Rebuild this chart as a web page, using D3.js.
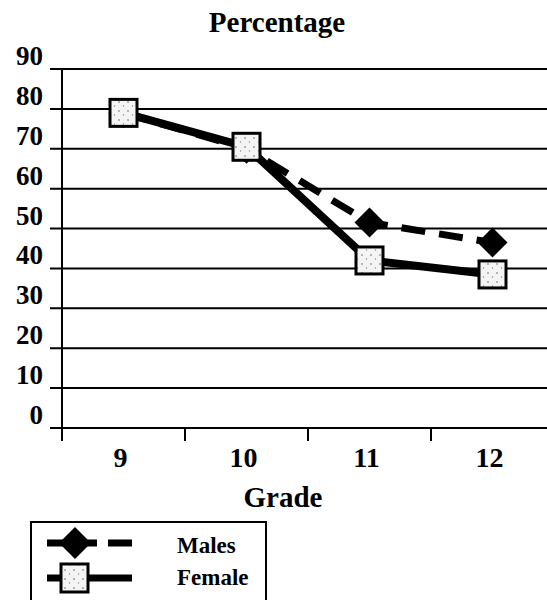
<!DOCTYPE html>
<html>
<head lang="en">
    <meta charset="UTF-8">
    <title>Percentage by Grade</title>
    <script src="https://cdn.jsdelivr.net/npm/d3@7"></script>
    <style>
        *{margin:0;padding:0;}
        body{background:#fff;}
        text{font-family:"Liberation Serif","DejaVu Serif",serif;font-weight:bold;fill:#000;}
    </style>
</head>
<body>
<div id="mychart"></div>
<script>
    var grades=["9","10","11","12"];
    var males=[79,70,51.5,46.5];
    var female=[79,70.5,42,38.5];
    var yticks=[0,10,20,30,40,50,60,70,80,90];

    var W=547,H=600;
    var svg=d3.select("#mychart").append("svg")
            .attr("width",W).attr("height",H);

    // dotted fill for the square markers
    var defs=svg.append("defs");
    var pat=defs.append("pattern").attr("id","speck")
            .attr("patternUnits","userSpaceOnUse")
            .attr("width",9).attr("height",9);
    pat.append("rect").attr("width",9).attr("height",9).attr("fill","#f4f4f4");
    pat.append("circle").attr("cx",2).attr("cy",3).attr("r",0.8).attr("fill","#666");
    pat.append("circle").attr("cx",6.5).attr("cy",7).attr("r",0.7).attr("fill","#888");

    var xscale=d3.scaleBand().domain(grades).range([62,554]).paddingInner(0).paddingOuter(0);
    var yscale=d3.scaleLinear().domain([0,90]).range([428,69]);
    function cx(d,i){return xscale(grades[i])+xscale.bandwidth()/2;}
    // diamond path centred on 0,0
    function diamondPath(r){return "M0,"+(-r)+"L"+r+",0L0,"+r+"L"+(-r)+",0Z";}

    // gridlines + y labels
    var gy=svg.append("g");
    gy.selectAll("line").data(yticks).enter().append("line")
            .attr("x1",50).attr("x2",W)
            .attr("y1",function(d){return yscale(d);})
            .attr("y2",function(d){return yscale(d);})
            .attr("stroke","#000").attr("stroke-width",2);
    gy.selectAll("text").data(yticks).enter().append("text")
            .attr("x",43).attr("y",function(d){return yscale(d)-4;})
            .attr("text-anchor","end")
            .style("font-size","27px")
            .text(function(d){return d;});

    // y axis line
    svg.append("line").attr("x1",62).attr("x2",62).attr("y1",yscale(90)).attr("y2",441)
            .attr("stroke","#000").attr("stroke-width",2);

    // x ticks
    var xt=svg.append("g");
    xt.selectAll("line").data(grades).enter().append("line")
            .attr("x1",function(d){return xscale(d);})
            .attr("x2",function(d){return xscale(d);})
            .attr("y1",yscale(0)).attr("y2",yscale(0)+13)
            .attr("stroke","#000").attr("stroke-width",2);
    xt.selectAll("text").data(grades).enter().append("text")
            .attr("x",function(d){return xscale(d)+xscale.bandwidth()/2-3;})
            .attr("y",467)
            .attr("text-anchor","middle")
            .style("font-size","28px")
            .text(function(d){return d;});

    svg.append("text").attr("x",277).attr("y",32).attr("text-anchor","middle")
            .style("font-size","29px").text("Percentage");
    svg.append("text").attr("x",283).attr("y",507).attr("text-anchor","middle")
            .style("font-size","29px").text("Grade");

    var line=d3.line().x(function(d,i){return cx(d,i);}).y(function(d){return yscale(d);});

    // Males
    svg.append("path").attr("d",line(males))
            .attr("fill","none").attr("stroke","#000").attr("stroke-width",7)
            .attr("stroke-dasharray","24,14");
    svg.selectAll(".dm").data(males).enter().append("path")
            .attr("class","dm")
            .attr("d",diamondPath(15))
            .attr("transform",function(d,i){return "translate("+cx(d,i)+","+yscale(d)+")";})
            .attr("fill","#000");

    // Female
    svg.append("path").attr("d",line(female))
            .attr("fill","none").attr("stroke","#000").attr("stroke-width",8);
    svg.selectAll(".sq").data(female).enter().append("rect")
            .attr("class","sq")
            .attr("x",function(d,i){return cx(d,i)-13.5;})
            .attr("y",function(d){return yscale(d)-13.5;})
            .attr("width",27).attr("height",27)
            .attr("fill","url(#speck)").attr("stroke","#000").attr("stroke-width",3);

    // legend
    var lg=svg.append("g");
    lg.append("rect").attr("x",31).attr("y",522).attr("width",235).attr("height",90)
            .attr("fill","none").attr("stroke","#000").attr("stroke-width",2);
    lg.append("line").attr("x1",47).attr("x2",132).attr("y1",543).attr("y2",543)
            .attr("stroke","#000").attr("stroke-width",7).attr("stroke-dasharray","50,11,25");
    lg.append("path").attr("d",diamondPath(16))
            .attr("transform","translate(75,543)").attr("fill","#000");
    lg.append("line").attr("x1",47).attr("x2",132).attr("y1",578).attr("y2",578)
            .attr("stroke","#000").attr("stroke-width",7);
    lg.append("rect").attr("x",61).attr("y",564).attr("width",27).attr("height",28)
            .attr("fill","url(#speck)").attr("stroke","#000").attr("stroke-width",3);
    lg.append("text").attr("x",177).attr("y",553).style("font-size","23px").text("Males");
    lg.append("text").attr("x",177).attr("y",585).style("font-size","23px").text("Female");
</script>
</body>
</html>
